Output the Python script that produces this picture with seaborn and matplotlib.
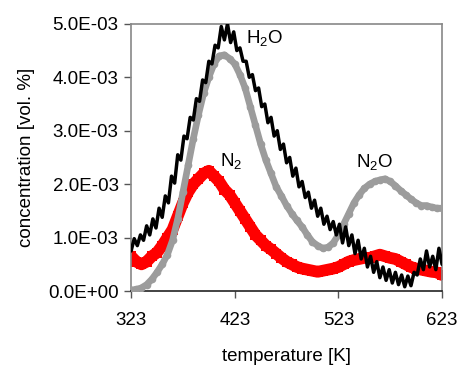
import matplotlib
matplotlib.use("Agg")
import matplotlib.pyplot as plt
import seaborn as sns
import pandas as pd
from matplotlib.ticker import FormatStrFormatter

# ---- data (concentration in 1e-3 vol. %) ----
t_h2o = [323, 326, 329, 332, 335, 338, 341, 344, 347, 350, 353, 356, 359, 362, 365, 368, 371, 374, 377, 380,
         383, 386, 389, 392, 395, 398, 401, 404, 407, 410, 413, 416, 419, 422, 425, 428, 431, 434, 437, 440,
         443, 446, 449, 452, 455, 458, 461, 464, 467, 470, 473, 476, 479, 482, 485, 488, 491, 494, 497, 500,
         503, 506, 509, 512, 515, 518, 521, 524, 527, 530, 533, 536, 539, 542, 545, 548, 551, 554, 557, 560,
         563, 566, 569, 572, 575, 578, 581, 584, 587, 590, 593, 596, 599, 602, 605, 608, 611, 614, 617, 620, 623]
h2o = [0.75, 0.98, 0.85, 1.05, 0.95, 1.22, 1.05, 1.35, 1.18, 1.55, 1.38, 1.78, 1.65, 2.15, 2.02, 2.55, 2.45, 2.90, 2.85, 3.25,
       3.20, 3.60, 3.55, 3.95, 3.90, 4.30, 4.25, 4.60, 4.55, 4.95, 4.70, 5.00, 4.65, 4.85, 4.50, 4.55, 4.30, 4.30, 4.00, 4.05,
       3.75, 3.80, 3.45, 3.50, 3.15, 3.25, 2.90, 3.00, 2.65, 2.75, 2.40, 2.50, 2.15, 2.30, 1.95, 2.05, 1.75, 1.85, 1.55, 1.70,
       1.40, 1.55, 1.25, 1.40, 1.15, 1.30, 1.05, 1.25, 0.90, 1.20, 0.85, 1.05, 0.70, 0.95, 0.60, 0.80, 0.45, 0.65, 0.35, 0.55,
       0.25, 0.45, 0.20, 0.40, 0.15, 0.35, 0.12, 0.30, 0.08, 0.28, 0.10, 0.35, 0.30, 0.60, 0.40, 0.75, 0.45, 0.65, 0.40, 0.80, 0.50]

t_5 = [323, 328, 333, 338, 343, 348, 353, 358, 363, 368, 373, 378, 383, 388, 393, 398, 403, 408, 413, 418,
       423, 428, 433, 438, 443, 448, 453, 458, 463, 468, 473, 478, 483, 488, 493, 498, 503, 508, 513, 518,
       523, 528, 533, 538, 543, 548, 553, 558, 563, 568, 573, 578, 583, 588, 593, 598, 603, 608, 613, 618, 623]
n2o = [0.02, 0.03, 0.06, 0.12, 0.22, 0.35, 0.50, 0.68, 0.95, 1.35, 1.85, 2.35, 2.85, 3.30, 3.70, 4.00, 4.25, 4.40, 4.42, 4.35,
       4.25, 4.05, 3.80, 3.45, 3.10, 2.75, 2.45, 2.20, 1.95, 1.78, 1.60, 1.45, 1.32, 1.20, 1.05, 0.92, 0.85, 0.80, 0.82, 0.90,
       1.05, 1.25, 1.45, 1.65, 1.80, 1.92, 2.00, 2.05, 2.08, 2.10, 2.05, 1.97, 1.88, 1.80, 1.72, 1.65, 1.60, 1.60, 1.57, 1.55, 1.55]
n2 = [0.65, 0.55, 0.50, 0.55, 0.65, 0.72, 0.85, 1.00, 1.15, 1.40, 1.65, 1.85, 2.00, 2.10, 2.20, 2.25, 2.15, 2.05, 1.90, 1.80,
      1.65, 1.50, 1.35, 1.20, 1.05, 0.95, 0.85, 0.78, 0.70, 0.62, 0.55, 0.50, 0.45, 0.42, 0.40, 0.38, 0.36, 0.38, 0.40, 0.42,
      0.45, 0.50, 0.55, 0.58, 0.60, 0.62, 0.62, 0.65, 0.68, 0.65, 0.62, 0.60, 0.55, 0.50, 0.45, 0.42, 0.40, 0.38, 0.36, 0.35, 0.30]

x_ticks = [323, 423, 523, 623]
y_ticks = [0.0, 1e-3, 2e-3, 3e-3, 4e-3, 5e-3]

df_h2o = pd.DataFrame({"T": t_h2o, "c": [v * 1e-3 for v in h2o]})
df_n2o = pd.DataFrame({"T": t_5, "c": [v * 1e-3 for v in n2o]})
df_n2 = pd.DataFrame({"T": t_5, "c": [v * 1e-3 for v in n2]})

sns.set_style("white")
plt.rcParams["font.family"] = ["Liberation Sans", "DejaVu Sans"]
plt.rcParams["mathtext.fontset"] = "custom"
plt.rcParams["mathtext.rm"] = "Liberation Sans"
plt.rcParams["text.color"] = "black"
plt.rcParams["axes.labelcolor"] = "black"
plt.rcParams["xtick.color"] = "black"
plt.rcParams["ytick.color"] = "black"

fig = plt.figure(figsize=(4.6, 3.67), dpi=100)
ax = fig.add_axes([0.285, 0.207, 0.676, 0.728])

sns.lineplot(data=df_n2, x="T", y="c", ax=ax, color="#ff0000", lw=8.5, marker="s",
             markersize=7, markeredgewidth=0, zorder=2)
sns.lineplot(data=df_n2o, x="T", y="c", ax=ax, color="#9c9c9c", lw=4.8, marker="o",
             markersize=5.5, markeredgewidth=0, zorder=3)
sns.lineplot(data=df_h2o, x="T", y="c", ax=ax, color="black", lw=2.5, zorder=4)

ax.set_xlim(323, 623)
ax.set_ylim(0, 5e-3)
ax.set_xticks(x_ticks)
ax.set_yticks(y_ticks)
ax.yaxis.set_major_formatter(FormatStrFormatter("%.1E"))
ax.tick_params(axis="both", direction="out", length=5, width=1, color="#555555",
               labelsize=13.5, pad=4, left=True, bottom=True, labelcolor="black")
ax.tick_params(axis="x", pad=10)
for s in ["left", "top", "right"]:
    ax.spines[s].set_color("#888888")
    ax.spines[s].set_linewidth(1.2)
ax.spines["bottom"].set_color("#222222")
ax.spines["bottom"].set_linewidth(1.2)

ax.set_xlabel("temperature [K]", fontsize=13.5, labelpad=14, color="black")
ax.set_ylabel("concentration [vol. %]", fontsize=13.5, labelpad=9, color="black")

ax.text(433.5, 4.72e-3, r"H$_2$O", fontsize=13.5, va="center", ha="left", color="black")
ax.text(409, 2.42e-3, r"N$_2$", fontsize=13.5, va="center", ha="left", color="black")
ax.text(540, 2.40e-3, r"N$_2$O", fontsize=13.5, va="center", ha="left", color="black")

fig.savefig("out.png", dpi=100)
